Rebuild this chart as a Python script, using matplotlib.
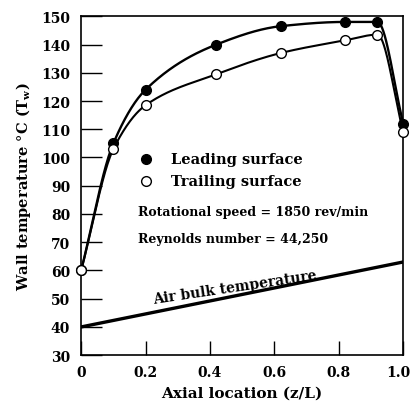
import numpy as np
import matplotlib.pyplot as plt
import matplotlib.transforms as mtransforms

# data
z = [0.0, 0.1, 0.2, 0.42, 0.62, 0.82, 0.92, 1.0]
leading = [60, 105, 124, 140, 146.5, 148, 148, 112]
trailing = [60, 103, 118.5, 129.5, 137, 141.5, 143.5, 109]
air_z = [0.0, 1.0]
air_t = [40, 63]


def smooth(x, y, n=40):
    # monotone cubic (Fritsch-Carlson) curve through the points, for drawing only
    x = np.asarray(x, float)
    y = np.asarray(y, float)
    h = np.diff(x)
    d = np.diff(y) / h
    m = np.zeros_like(y)
    for i in range(1, len(x) - 1):
        if d[i - 1] * d[i] > 0:
            w1 = 2 * h[i] + h[i - 1]
            w2 = h[i] + 2 * h[i - 1]
            m[i] = (w1 + w2) / (w1 / d[i - 1] + w2 / d[i])
    m[0] = d[0]
    m[-1] = d[-1]
    xs, ys = [], []
    t = np.linspace(0, 1, n)
    for i in range(len(x) - 1):
        h00 = 2 * t ** 3 - 3 * t ** 2 + 1
        h10 = t ** 3 - 2 * t ** 2 + t
        h01 = -2 * t ** 3 + 3 * t ** 2
        h11 = t ** 3 - t ** 2
        xs.extend(x[i] + t * h[i])
        ys.extend(h00 * y[i] + h10 * h[i] * m[i] + h01 * y[i + 1] + h11 * h[i] * m[i + 1])
    return np.array(xs), np.array(ys)


plt.rcParams['font.family'] = ['DejaVu Serif']
plt.rcParams['font.weight'] = 'bold'
plt.rcParams['mathtext.default'] = 'regular'

fig = plt.figure(figsize=(4.14, 4.02), dpi=100)
ax = fig.add_axes([0.196, 0.114, 0.778, 0.843])

lx, ly = smooth(z, leading)
tx, ty = smooth(z, trailing)
ax.plot(lx, ly, color='black', lw=1.7, zorder=2, clip_on=False)
ax.plot(tx, ty, color='black', lw=1.5, zorder=2, clip_on=False)
ax.plot(air_z, air_t, color='black', lw=2.4, zorder=2)

ax.plot(z, leading, 'o', color='black', ms=7, zorder=3, clip_on=False)
ax.plot(z, trailing, 'o', mfc='white', mec='black', mew=1, ms=7, zorder=4, clip_on=False)

ax.set_xlim(0, 1.0)
ax.set_ylim(30, 150)
ax.set_xticks([0, 0.2, 0.4, 0.6, 0.8, 1.0])
ax.set_xticklabels(['0', '0.2', '0.4', '0.6', '0.8', '1.0'])
ax.set_yticks(range(30, 151, 10))
ax.tick_params(axis='y', direction='in', length=15, width=1, labelsize=10, pad=8)
ax.tick_params(axis='x', direction='in', length=10, width=1, labelsize=10, pad=7)
for lab in ax.get_xticklabels() + ax.get_yticklabels():
    lab.set_fontweight('bold')
# keep the last x label inside the figure
last = ax.get_xticklabels()[-1]
last.set_transform(last.get_transform()
                   + mtransforms.ScaledTranslation(-5 / 100, 0, fig.dpi_scale_trans))
for s in ax.spines.values():
    s.set_linewidth(1.2)

ax.set_xlabel('Axial location (z/L)', fontsize=11, fontweight='bold', labelpad=5)
ax.set_ylabel('Wall temperature °C (T$_w$)', fontsize=10.5, fontweight='bold', labelpad=6)

ax.plot([0.2], [99.3], 'o', color='black', ms=7)
ax.plot([0.2], [91.6], 'o', mfc='white', mec='black', ms=7)
ax.text(0.28, 99.3, 'Leading surface', fontsize=10.5, fontweight='bold', va='center')
ax.text(0.28, 91.6, 'Trailing surface', fontsize=10.5, fontweight='bold', va='center')
ax.text(0.175, 81, 'Rotational speed = 1850 rev/min', fontsize=9, fontweight='bold', va='center')
ax.text(0.175, 71.2, 'Reynolds number = 44,250', fontsize=9, fontweight='bold', va='center')
ax.text(0.22, 47.5, 'Air bulk temperature', fontsize=10, fontweight='bold',
        rotation=8.5, va='bottom')

fig.patch.set_facecolor('white')
fig.savefig('out.png', dpi=100)
